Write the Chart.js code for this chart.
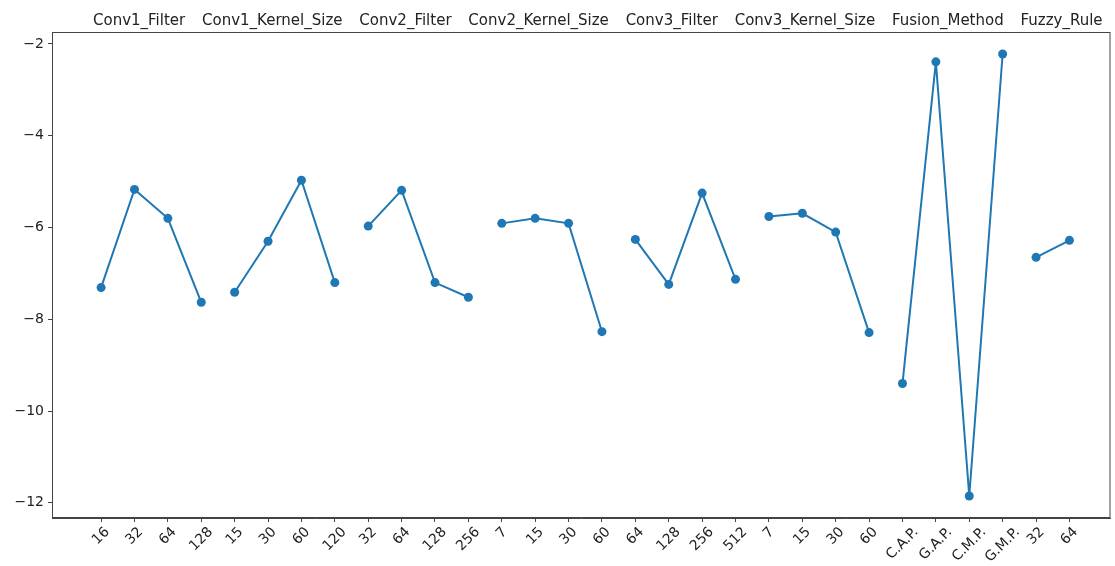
<!DOCTYPE html>
<html>
<head>
<meta charset="utf-8">
<script src="https://cdn.jsdelivr.net/npm/chart.js@4"></script>
<style>
  html, body { margin: 0; padding: 0; background: #fff; }
  #wrap { width: 1115px; height: 566px; }
</style>
</head>
<body>
<div id="wrap"><canvas id="chart" width="1115" height="566"></canvas></div>
<script>
// grupos de parámetros y sus niveles
const grupos = ['Conv1_Filter', 'Conv1_Kernel_Size', 'Conv2_Filter', 'Conv2_Kernel_Size',
                'Conv3_Filter', 'Conv3_Kernel_Size', 'Fusion_Method', 'Fuzzy_Rule'];

const niveles = [
    ['16', '32', '64', '128'],
    ['15', '30', '60', '120'],
    ['32', '64', '128', '256'],
    ['7', '15', '30', '60'],
    ['64', '128', '256', '512'],
    ['7', '15', '30', '60'],
    ['C.A.P.', 'G.A.P.', 'C.M.P.', 'G.M.P.'],
    ['32', '64']
];

// valores medios
const conv1Filter = [-7.31, -5.17, -5.80, -7.63];
const conv1Kernel = [-7.41, -6.30, -4.97, -7.20];
const conv2Filter = [-5.97, -5.19, -7.20, -7.52];
const conv2Kernel = [-5.91, -5.80, -5.91, -8.27];
const conv3Filter = [-6.26, -7.24, -5.25, -7.13];
const conv3Kernel = [-5.76, -5.69, -6.10, -8.29];
const fusion = [-9.40, -2.39, -11.85, -2.22];
const fuzzy = [-6.65, -6.28];

const valores = [conv1Filter, conv1Kernel, conv2Filter, conv2Kernel, conv3Filter, conv3Kernel, fusion, fuzzy];

const yTicks = [-2, -4, -6, -8, -10, -12];

// etiquetas del eje x, todas seguidas
const etiquetasX = niveles.flat();

const azul = '#1f77b4';
const fuente = "'DejaVu Sans', sans-serif";

// un dataset por grupo para que las líneas no se unan
let inicio = 0;
const datasets = valores.map((serie, g) => {
    const data = serie.map((v, j) => ({ x: inicio + j, y: v }));
    inicio += serie.length;
    return {
        label: grupos[g],
        data: data,
        borderColor: azul,
        backgroundColor: azul,
        borderWidth: 2,
        pointRadius: 4.5,
        pointBorderWidth: 0,
        pointBackgroundColor: azul,
        tension: 0
    };
});

// marco, etiquetas rotadas del eje x y títulos de grupo arriba
const extras = {
    id: 'extras',
    afterDraw(chart) {
        const ctx = chart.ctx;
        const area = chart.chartArea;
        const xs = chart.scales.x;

        ctx.save();
        ctx.strokeStyle = '#444';
        ctx.lineWidth = 1;
        ctx.strokeRect(area.left + 0.5, area.top + 0.5, area.right - area.left - 1, area.bottom - area.top - 1);

        ctx.fillStyle = '#222';
        ctx.font = '14px ' + fuente;
        ctx.textAlign = 'center';
        ctx.textBaseline = 'middle';
        const s = Math.SQRT1_2;
        etiquetasX.forEach((txt, i) => {
            const x = xs.getPixelForValue(i);
            const w = ctx.measureText(txt).width;
            const h = 11;
            const top = area.bottom + 8;
            const cy = top + (w + h) * s / 2;
            ctx.save();
            ctx.translate(x, cy);
            ctx.rotate(-Math.PI / 4);
            ctx.fillText(txt, 0, 0);
            ctx.restore();
        });

        ctx.font = '15px ' + fuente;
        ctx.textAlign = 'left';
        ctx.textBaseline = 'alphabetic';
        let x = area.left + 41;
        grupos.forEach(g => {
            ctx.fillText(g, x, 25);
            x += ctx.measureText(g).width + 16.8;
        });
        ctx.restore();
    }
};

new Chart(document.getElementById('chart'), {
    type: 'line',
    data: { datasets: datasets },
    options: {
        responsive: false,
        animation: false,
        layout: { padding: { top: 32, right: -3, left: 0, bottom: 0 } },
        plugins: {
            legend: { display: false },
            tooltip: { enabled: false }
        },
        scales: {
            x: {
                type: 'linear',
                min: -1.47,
                max: 30.23,
                afterBuildTicks: scale => {
                    scale.ticks = etiquetasX.map((_, i) => ({ value: i }));
                },
                afterFit: scale => { scale.height = 48; },
                grid: { drawOnChartArea: false, drawTicks: true, tickLength: 4, color: '#444' },
                border: { display: true, color: '#444', width: 1 },
                ticks: { callback: () => '', maxRotation: 0, autoSkip: false }
            },
            y: {
                min: -12.33,
                max: -1.74,
                afterBuildTicks: scale => {
                    scale.ticks = yTicks.map(v => ({ value: v }));
                },
                afterFit: scale => { scale.width = 52; },
                grid: { drawOnChartArea: false, drawTicks: true, tickLength: 4, color: '#444' },
                border: { display: true, color: '#444', width: 1 },
                ticks: {
                    color: '#222',
                    font: { family: fuente, size: 14 },
                    padding: 4,
                    callback: v => String(v).replace('-', '\u2212')
                }
            }
        }
    },
    plugins: [extras]
});
</script>
</body>
</html>
